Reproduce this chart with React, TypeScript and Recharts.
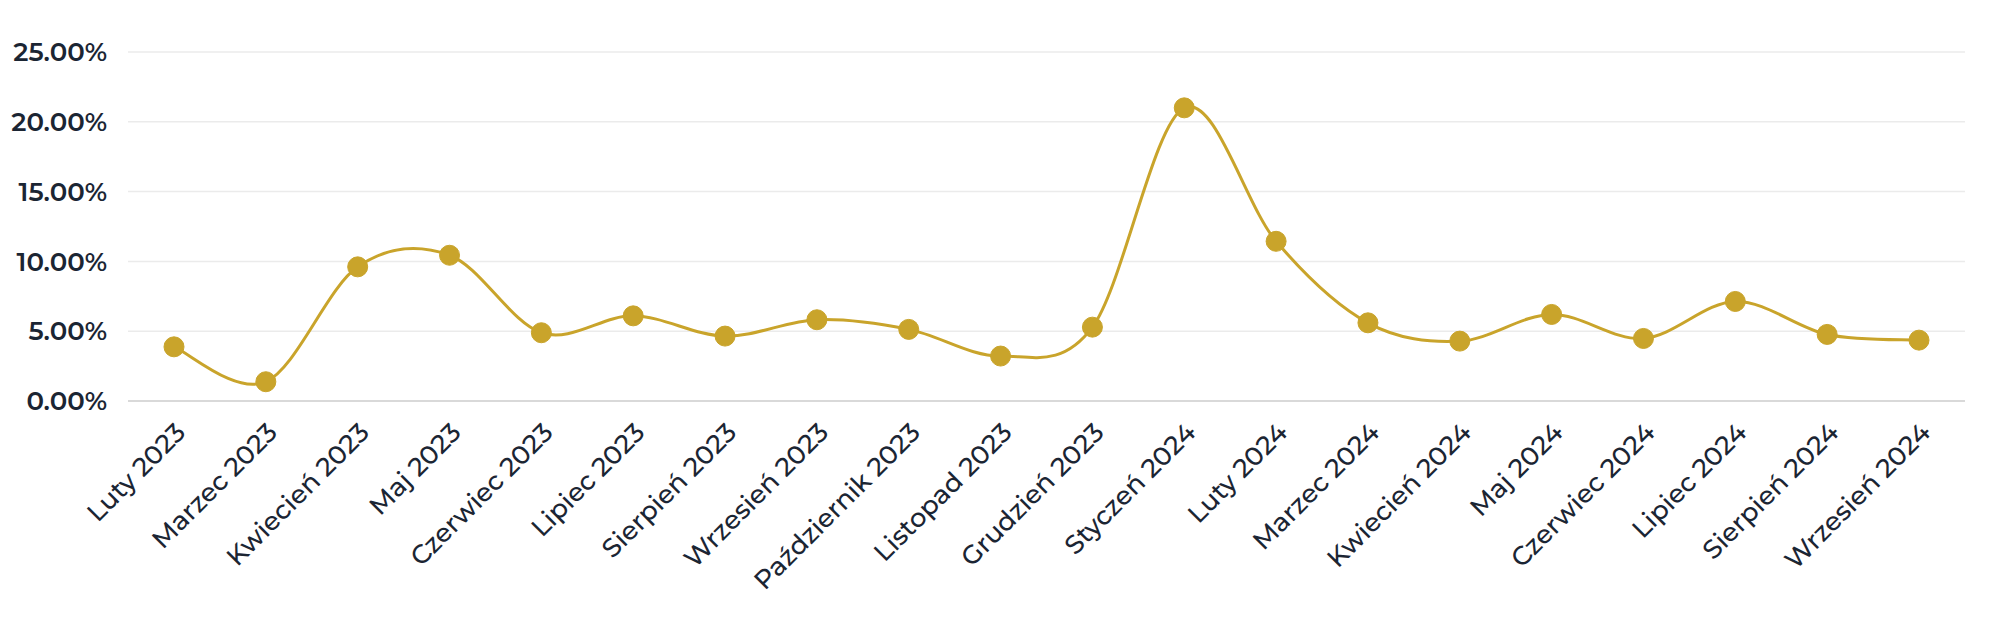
import { LineChart, Line, XAxis, YAxis, CartesianGrid } from 'recharts';

const months = [
  'Luty 2023', 'Marzec 2023', 'Kwiecień 2023', 'Maj 2023', 'Czerwiec 2023',
  'Lipiec 2023', 'Sierpień 2023', 'Wrzesień 2023', 'Październik 2023', 'Listopad 2023',
  'Grudzień 2023', 'Styczeń 2024', 'Luty 2024', 'Marzec 2024', 'Kwiecień 2024',
  'Maj 2024', 'Czerwiec 2024', 'Lipiec 2024', 'Sierpień 2024', 'Wrzesień 2024',
];

const rates = [
  3.88, 1.38, 9.61, 10.44, 4.89,
  6.1, 4.65, 5.82, 5.13, 3.22,
  5.29, 21.0, 11.44, 5.6, 4.29,
  6.2, 4.48, 7.13, 4.77, 4.36,
];

const yTicks = [0, 5, 10, 15, 20, 25];

const data = months.map((month, i) => ({ month, rate: rates[i] }));

const GOLD = '#c9a42b';
const TEXT = '#1b2533';
const FONT = "Montserrat, 'Noto Sans', sans-serif";

// catmull-rom style smoothing (passes through every point, slight overshoot)
function smoothCurve(context: any) {
  let pts: [number, number][] = [];
  return {
    areaStart() {},
    areaEnd() {},
    lineStart() {
      pts = [];
    },
    point(x: number, y: number) {
      pts.push([+x, +y]);
    },
    lineEnd() {
      if (!pts.length) return;
      context.moveTo(pts[0][0], pts[0][1]);
      for (let i = 0; i < pts.length - 1; i++) {
        const p0 = pts[i - 1] || pts[i];
        const p1 = pts[i];
        const p2 = pts[i + 1];
        const p3 = pts[i + 2] || p2;
        context.bezierCurveTo(
          p1[0] + (p2[0] - p0[0]) / 6,
          p1[1] + (p2[1] - p0[1]) / 6,
          p2[0] - (p3[0] - p1[0]) / 6,
          p2[1] - (p3[1] - p1[1]) / 6,
          p2[0],
          p2[1],
        );
      }
    },
  };
}

function MonthTick(props: any) {
  const { x, y, payload } = props;
  return (
    <text
      x={x}
      y={y}
      dy="0.71em"
      textAnchor="end"
      transform={`rotate(-45, ${x}, ${y})`}
      fill={TEXT}
      fontSize={26}
      fontWeight={500}
      fontFamily={FONT}
    >
      {payload.value}
    </text>
  );
}

export default function App() {
  return (
    <div style={{ width: 1984, height: 604, background: '#fff' }}>
      <LineChart width={1984} height={604} data={data} margin={{ top: 44, right: 27, left: 0, bottom: 11 }}>
        <CartesianGrid vertical={false} stroke="#ebebeb" strokeWidth={1.5} />
        <XAxis
          dataKey="month"
          interval={0}
          height={200}
          padding={{ left: 46, right: 46 }}
          tickLine={false}
          tickSize={0}
          tickMargin={20}
          axisLine={{ stroke: '#d9d9d9', strokeWidth: 2 }}
          tick={<MonthTick />}
        />
        <YAxis
          width={120}
          domain={[0, 25]}
          ticks={yTicks}
          axisLine={false}
          tickLine={false}
          tickSize={0}
          tickMargin={21}
          tickFormatter={(v: number) => `${v.toFixed(2)}%`}
          tick={{ fill: TEXT, fontSize: 26, fontWeight: 600, fontFamily: FONT }}
        />
        <Line
          dataKey="rate"
          type={smoothCurve as any}
          stroke={GOLD}
          strokeWidth={3}
          dot={{ r: 10, fill: GOLD, stroke: GOLD, strokeWidth: 1 }}
          activeDot={false}
          isAnimationActive={false}
        />
      </LineChart>
    </div>
  );
}
